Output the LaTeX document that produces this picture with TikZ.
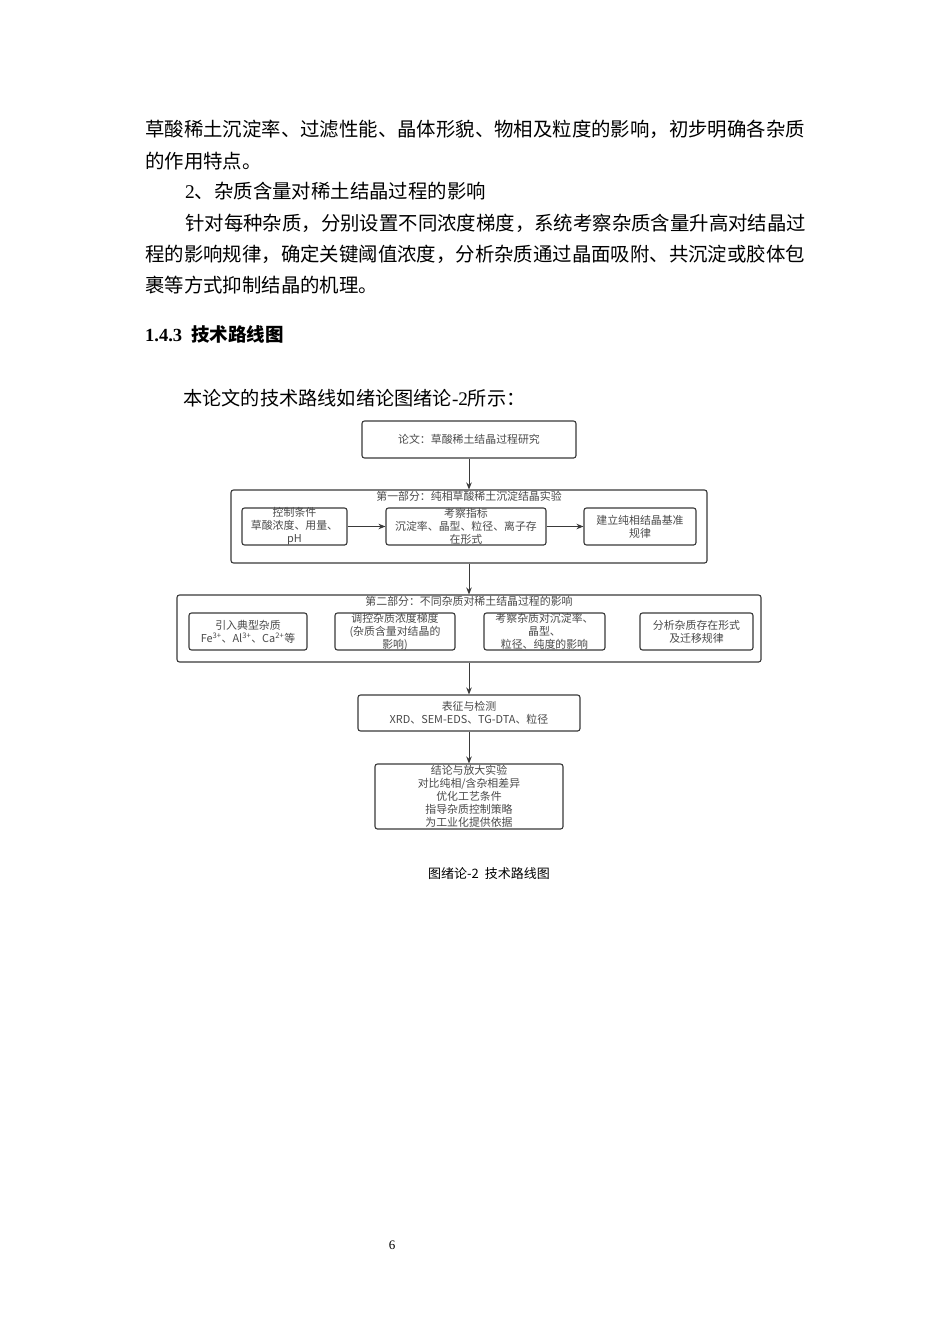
\documentclass[tikz,border=0pt]{standalone}
\usepackage{fontspec}
\setmainfont{Liberation Serif}
\newfontfamily\cjk{Noto Sans CJK SC}
\usetikzlibrary{arrows.meta}
\definecolor{boxline}{HTML}{3A3A3A}
\definecolor{boxtext}{HTML}{4A4A4A}
\tikzset{
  body/.style={anchor=base west, inner sep=0pt, font=\cjk\fontsize{19.4}{20}\selectfont, text=black},
  frame/.style={draw=boxline, line width=1.1pt, rounded corners=2.5pt, inner sep=0pt},
  lbl/.style={align=center, inner sep=0pt, text=boxtext, font=\cjk\fontsize{10.9}{13}\selectfont},
  conn/.style={draw=boxline, line width=1pt, -{Stealth[length=7pt,width=5.5pt]}}
}
\begin{document}
\begin{tikzpicture}[x=1pt,y=-1pt]
\fill[white] (0,0) rectangle (950,1344);
\useasboundingbox (0,0) rectangle (950,1344);

% body text
\node[body] (l1) at (145,136) {草酸稀土沉淀率、过滤性能、晶体形貌、物相及粒度的影响，初步明确各杂质};
\node[body] (l2) at (145,168) {的作用特点。};
\node[body] (l3) at (185,198) {{\rmfamily 2}、杂质含量对稀土结晶过程的影响};
\node[body] (l4) at (185,230) {针对每种杂质，分别设置不同浓度梯度，系统考察杂质含量升高对结晶过};
\node[body] (l5) at (145,261) {程的影响规律，确定关键阈值浓度，分析杂质通过晶面吸附、共沉淀或胶体包};
\node[body] (l6) at (145,292) {裹等方式抑制结晶的机理。};
\node[anchor=base west, inner sep=0pt, font=\fontsize{18.5}{20}\selectfont] (hd) at (145,341) {\textbf{1.4.3}\hspace{9pt}{\cjk\bfseries 技术路线图}};
\node[body, font=\cjk\fontsize{19.2}{20}\selectfont] (intro) at (183,405) {本论文的技术路线如绪论图绪论{\rmfamily -2}所示：};

% diagram boxes
\node[frame, minimum width=214pt, minimum height=37pt] (T) at (469,439.5) {};
\node[lbl] at (T) {论文：草酸稀土结晶过程研究};

\node[frame, minimum width=476pt, minimum height=73pt] (P1) at (469,526.5) {};
\node[lbl] (P1t) at (469,496) {第一部分：纯相草酸稀土沉淀结晶实验};
\node[frame, minimum width=105pt, minimum height=37pt] (A) at (294.5,526.5) {};
\node[lbl] at (A) {控制条件\\草酸浓度、用量、\\pH};
\node[frame, minimum width=160pt, minimum height=37pt] (B) at (466,526.5) {};
\node[lbl] at (B) {考察指标\\沉淀率、晶型、粒径、离子存\\在形式};
\node[frame, minimum width=112pt, minimum height=37pt] (C) at (640,526.5) {};
\node[lbl] at (C) {建立纯相结晶基准\\规律};

\node[frame, minimum width=584pt, minimum height=67pt] (P2) at (469,628.5) {};
\node[lbl] (P2t) at (469,601) {第二部分：不同杂质对稀土结晶过程的影响};
\node[frame, minimum width=118pt, minimum height=37pt] (D) at (248,631.5) {};
\node[lbl] at (D) {引入典型杂质\\Fe\textsuperscript{3+}、Al\textsuperscript{3+}、Ca\textsuperscript{2+}等};
\node[frame, minimum width=120pt, minimum height=37pt] (E) at (395,631.5) {};
\node[lbl] at (E) {调控杂质浓度梯度\\(杂质含量对结晶的\\影响)};
\node[frame, minimum width=121pt, minimum height=37pt] (F) at (544.5,631.5) {};
\node[lbl] at (F) {考察杂质对沉淀率、\\晶型、\\粒径、纯度的影响};
\node[frame, minimum width=113pt, minimum height=37pt] (G) at (696.5,631.5) {};
\node[lbl] at (G) {分析杂质存在形式\\及迁移规律};

\node[frame, minimum width=222pt, minimum height=36pt] (H) at (469,713) {};
\node[lbl] at (H) {表征与检测\\XRD、SEM-EDS、TG-DTA、粒径};
\node[frame, minimum width=188pt, minimum height=65pt] (I) at (469,796.5) {};
\node[lbl] at (I) {结论与放大实验\\对比纯相/含杂相差异\\优化工艺条件\\指导杂质控制策略\\为工业化提供依据};

% connectors
\draw[conn] (T.south) -- (P1.north);
\draw[conn] (A.east) -- (B.west);
\draw[conn] (B.east) -- (C.west);
\draw[conn] (P1.south) -- (P2.north);
\draw[conn] (P2.south) -- (H.north);
\draw[conn] (H.south) -- (I.north);

% caption and page number
\node[inner sep=0pt, font=\cjk\fontsize{13}{14}\selectfont, text=black] (cap) at (489,874) {图绪论-2\hspace{6pt}技术路线图};
\node[inner sep=0pt, font=\fontsize{13}{14}\selectfont] (pg) at (392,1245) {6};
\end{tikzpicture}
\end{document}
